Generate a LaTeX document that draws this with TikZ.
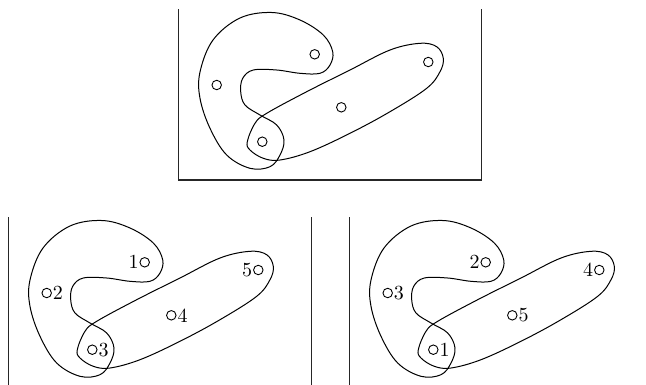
\documentclass[tikz,border=0pt]{standalone}
\begin{document}
\tikzset{
  curve/.style={line width=1pt, black},
  panel/.style={line width=1.1pt, black!85},
  dot/.style={circle, draw, line width=0.9pt, minimum size=9.5pt, inner sep=0pt},
  lab/.style={inner sep=0.8pt}
}
\newcommand\digit[1]{\scalebox{2}{#1}}
\newcommand\panelshapes{%
  \draw[panel] (178.5,9) -- (178.5,180) -- (481.7,180) -- (481.7,9);
  \draw[curve] plot[smooth cycle, tension=0.6] coordinates {
    (272,12.5) (300,20) (323.3,35) (332.7,51.7) (330,65) (320,73.3)
    (300,73.3) (276.7,70) (253.3,70) (242.7,78.3) (240.7,91.7) (245,105)
    (260,115) (276.7,125) (284,140) (280,155) (270,166.7) (250,168.3)
    (226.7,155) (210,128.3) (200,98.3) (200,72) (213,40) (240,18)};
  \draw[curve] plot[smooth cycle, tension=0.6] coordinates {
    (247.3,141.7) (255,123.3) (266.7,113.3) (306.7,91.7) (350,70) (390,50)
    (420,43.3) (436.7,46.7) (443.3,58.3) (440,71.7) (426.7,88.3) (390,111.7)
    (350,133.3) (310,151.7) (280,160) (263.3,158.3) (250,150)};
  \node[dot] (a) at (314.7,54.3) {};
  \node[dot] (b) at (428.3,62) {};
  \node[dot] (c) at (216.7,85) {};
  \node[dot] (d) at (341.3,107.3) {};
  \node[dot] (e) at (262.3,141.7) {};
}
\begin{tikzpicture}[x=1pt, y=-1pt]
  \clip (0,0) rectangle (646,384);
  \begin{scope}[name prefix=T-]
    \panelshapes
  \end{scope}
  \begin{scope}[shift={(-170,208)}, name prefix=L-]
    \panelshapes
  \end{scope}
  \begin{scope}[shift={(171,208)}, name prefix=R-]
    \panelshapes
  \end{scope}
  % left panel labels
  \node[lab, anchor=east] (L1) at (L-a.west) {\digit{1}};
  \node[lab, anchor=west] (L2) at (L-c.east) {\digit{2}};
  \node[lab, anchor=west] (L3) at (L-e.east) {\digit{3}};
  \node[lab, anchor=west] (L4) at (L-d.east) {\digit{4}};
  \node[lab, anchor=east] (L5) at (L-b.west) {\digit{5}};
  % right panel labels
  \node[lab, anchor=east] (R2) at (R-a.west) {\digit{2}};
  \node[lab, anchor=west] (R3) at (R-c.east) {\digit{3}};
  \node[lab, anchor=west] (R1) at (R-e.east) {\digit{1}};
  \node[lab, anchor=west] (R5) at (R-d.east) {\digit{5}};
  \node[lab, anchor=east] (R4) at (R-b.west) {\digit{4}};
\end{tikzpicture}
\end{document}
